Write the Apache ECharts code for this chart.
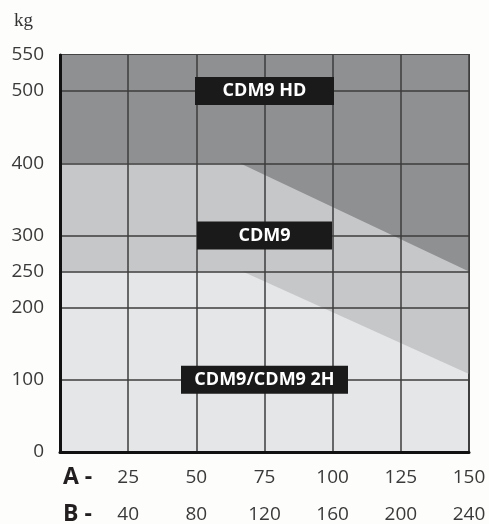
<!DOCTYPE html>
<html>
<head>
<meta charset="utf-8">
<script src="https://cdn.jsdelivr.net/npm/echarts@6/dist/echarts.min.js"></script>
<style>
  html, body { margin: 0; padding: 0; background: #fdfdfc; }
  #chart { width: 489px; height: 524px; }
</style>
</head>
<body>
<div id="chart"></div>
<script>
// axis ticks
const aTicks = [0, 25, 50, 75, 100, 125, 150]
const bTicks = [0, 40, 80, 120, 160, 200, 240]
const kgTicks = [0, 100, 200, 250, 300, 400, 500, 550]

// region boundaries (A value, kg)
const hdBoundary = [[0, 400], [66, 400], [150, 250]]
const cdm9Boundary = [[0, 250], [67, 250], [150, 108]]

// region labels
const labelNames = ['CDM9 HD', 'CDM9', 'CDM9/CDM9 2H']
const labelA = [75, 75, 75]
const labelKg = [500, 300, 100]

const chart = echarts.init(document.getElementById('chart'))

const boxWidths = [129, 125, 157] // label box widths in px

const tickFont = { fontFamily: 'Open Sans', fontSize: 19, color: '#3a3a3a' }

chart.setOption({
  animation: false,
  grid: {
    left: 60, right: 20, top: 55, bottom: 70,
    show: true,
    backgroundColor: '#e5e6e7',
    borderColor: '#444',
    borderWidth: 2
  },
  xAxis: [{
    type: 'value',
    z: 10,
    min: 0, max: 150, interval: 25,
    axisLine: { lineStyle: { color: '#111', width: 3 } },
    axisTick: { show: false },
    splitLine: { lineStyle: { color: '#3c3c3c', width: 1.5 } },
    axisLabel: Object.assign({
      margin: 16,
      formatter: v => (v === 0 || aTicks.indexOf(v) < 0) ? '' : v
    }, tickFont)
  }, {
    type: 'value',
    position: 'bottom',
    offset: 37,
    min: 0, max: 240, interval: 40,
    axisLine: { show: false },
    axisTick: { show: false },
    splitLine: { show: false },
    axisLabel: Object.assign({
      margin: 16,
      formatter: v => (v === 0 || bTicks.indexOf(v) < 0) ? '' : v
    }, tickFont)
  }],
  yAxis: {
    type: 'value',
    z: 10,
    min: 0, max: 550, interval: 50,
    axisLine: { show: true, lineStyle: { color: '#111', width: 3 } },
    axisTick: { show: false },
    splitLine: { show: false },
    axisLabel: Object.assign({
      margin: 16,
      formatter: v => kgTicks.indexOf(v) < 0 ? '' : v
    }, tickFont)
  },
  graphic: [
    { type: 'text', left: 14, top: 12, style: { text: 'kg', font: '19px "Liberation Serif"', fill: '#333' } },
    { type: 'text', left: 63, top: 466, style: { text: 'A -', font: 'bold 23px "Open Sans"', fill: '#231f20' } },
    { type: 'text', left: 63, top: 503, style: { text: 'B -', font: 'bold 23px "Open Sans"', fill: '#231f20' } }
  ],
  series: [{
    // CDM9 zone (fills from boundary up to top)
    type: 'line',
    data: cdm9Boundary,
    symbol: 'none',
    lineStyle: { width: 0 },
    areaStyle: { origin: 'end', color: '#c6c7c9', opacity: 1 }
  }, {
    // CDM9 HD zone
    type: 'line',
    data: hdBoundary,
    symbol: 'none',
    lineStyle: { width: 0 },
    areaStyle: { origin: 'end', color: '#8f9092', opacity: 1 }
  }, {
    // horizontal grid lines at the kg ticks
    type: 'line',
    data: [],
    z: 5,
    markLine: {
      silent: true,
      symbol: 'none',
      label: { show: false },
      lineStyle: { color: '#3c3c3c', width: 1.5, type: 'solid' },
      data: kgTicks.filter(v => v > 0 && v < 550).map(v => ({ yAxis: v }))
    }
  }, {
    type: 'scatter',
    z: 20,
    symbolSize: 1,
    itemStyle: { color: 'transparent', opacity: 1 },
    data: labelNames.map((n, i) => ({
      name: n,
      value: [labelA[i], labelKg[i]],
      label: { width: boxWidths[i] }
    })),
    label: {
      show: true,
      position: 'inside',
      formatter: p => p.name,
      backgroundColor: '#1a1a1a',
      color: '#fff',
      fontFamily: 'Open Sans',
      fontWeight: 'bold',
      fontSize: 18,
      align: 'center',
      lineHeight: 20,
      padding: [4, 5]
    }
  }]
})
</script>
</body>
</html>
